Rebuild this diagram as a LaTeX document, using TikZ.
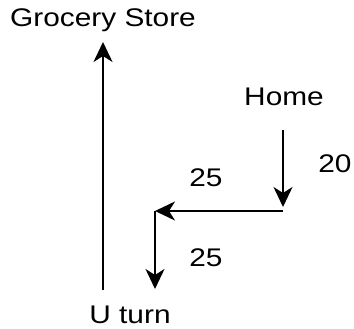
\documentclass[tikz,border=0pt]{standalone}
\usepackage{fontspec}
\setmainfont{Liberation Sans}[FakeStretch=1.17]
\usetikzlibrary{arrows.meta,positioning}

\begin{document}
\begin{tikzpicture}[
        x=1pt, y=-1pt,
        every node/.style={inner sep=0pt, anchor=base, font=\fontsize{25.5}{30}\selectfont},
        route/.style={line width=1.8pt, -{Stealth[length=20pt, width=19pt, inset=6pt]}}
      ]
      \useasboundingbox (0,0) rectangle (354,329);
      % labels
      \node (store) at (103,27) {Grocery Store};
      \node (home) at (284,106) {Home};
      \node (dist20) at (335,172) {20};
      \node (dist25a) at (206,186) {25};
      \node (dist25b) at (206,266) {25};
      \node (uturn) at (130,323) {U turn};
      % turning points
      \coordinate (back) at (103,290);
      \coordinate (arrive) at (103,42);
      \coordinate (leave) at (283,130);
      \coordinate (corner1) at (283,207);
      \coordinate (corner1b) at (283,211);
      \coordinate (corner2) at (155,211);
      \coordinate (turn) at (155,289);
      % route
      \draw[route] (back) -- (arrive);
      \draw[route] (leave) -- (corner1);
      \draw[route] (corner1b) -- (corner2);
      \draw[route] (corner2) -- (turn);
\end{tikzpicture}
\end{document}
